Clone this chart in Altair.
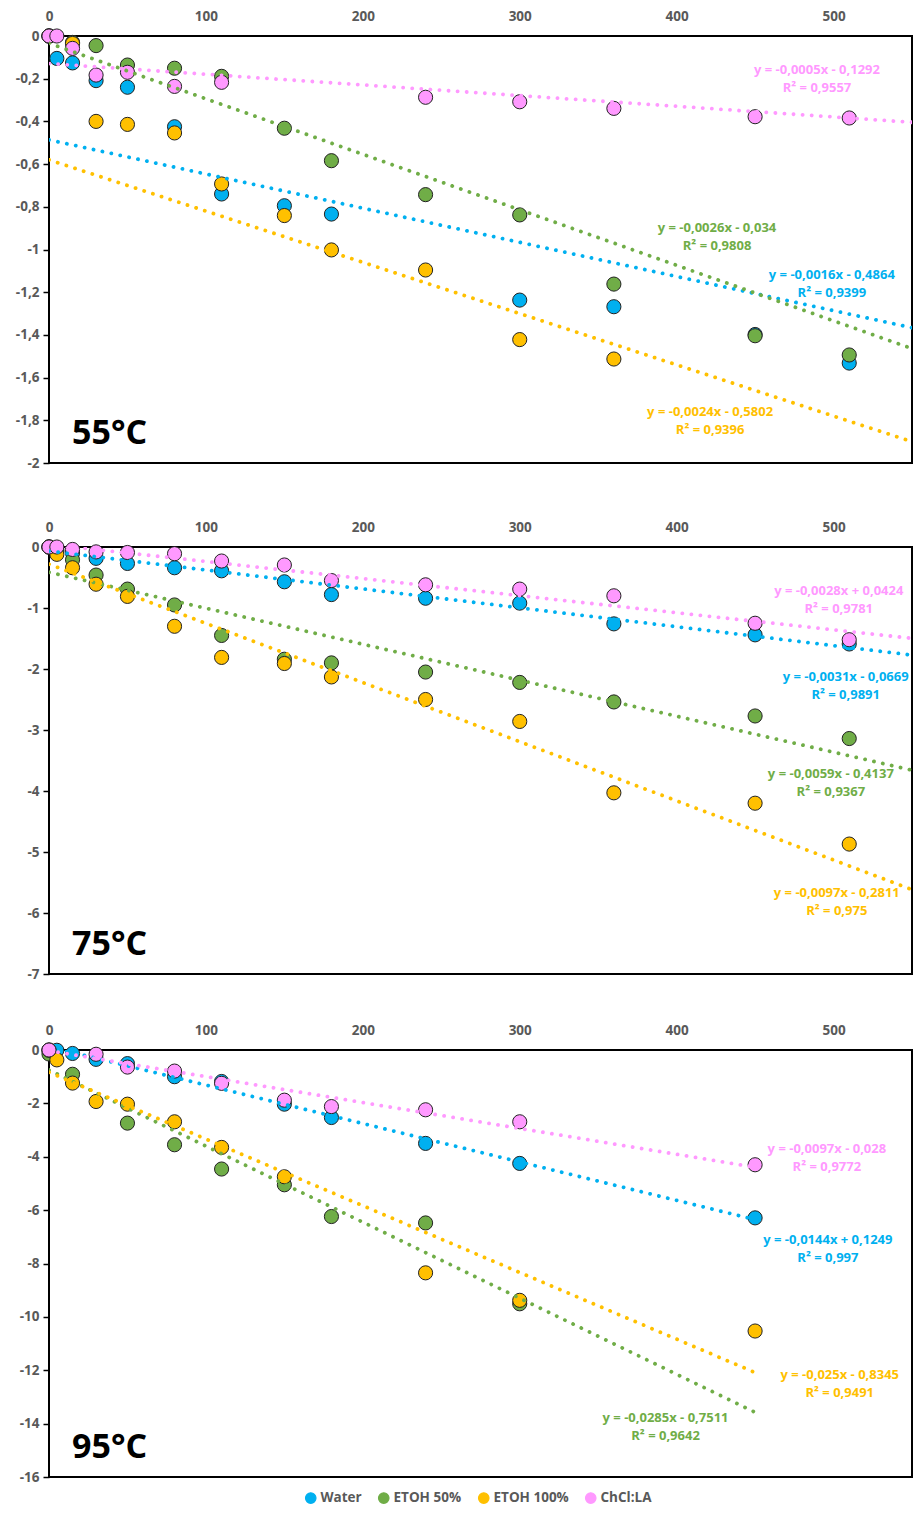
import altair as alt
import pandas as pd

FONT = "Open Sans"
SERIES = ["Water", "ETOH 50%", "ETOH 100%", "ChCl:LA"]
POINT_COLORS = ["#00B0F0", "#70AD47", "#FFC000", "#FF99FF"]
LINE_COLORS = ["#00B0F0", "#70AD47", "#FFC000", "#FF99FF"]
LABEL_GREY = "#595959"

# ---------------- 55 °C ----------------
t55_water = [0, 5, 15, 30, 50, 80, 110, 150, 180, 300, 360, 450, 510]
v55_water = [0, -0.105, -0.126, -0.209, -0.240, -0.425, -0.740, -0.795, -0.834, -1.237, -1.268, -1.398, -1.532]
t55_e50 = [0, 15, 30, 50, 80, 110, 150, 180, 240, 300, 360, 450, 510]
v55_e50 = [0, -0.03, -0.045, -0.136, -0.151, -0.189, -0.432, -0.584, -0.743, -0.838, -1.162, -1.404, -1.494]
t55_e100 = [0, 15, 30, 50, 80, 110, 150, 180, 240, 300, 360]
v55_e100 = [0, -0.035, -0.400, -0.414, -0.454, -0.693, -0.841, -1.002, -1.096, -1.422, -1.513]
t55_chcl = [0, 5, 15, 30, 50, 80, 110, 240, 300, 360, 450, 510]
v55_chcl = [0, 0, -0.058, -0.183, -0.170, -0.236, -0.217, -0.287, -0.308, -0.339, -0.378, -0.384]
slope55 = [-0.0016, -0.0026, -0.0024, -0.0005]
icpt55 = [-0.4864, -0.034, -0.5802, -0.1292]
eq55 = ["y = -0,0016x - 0,4864", "y = -0,0026x - 0,034", "y = -0,0024x - 0,5802", "y = -0,0005x - 0,1292"]
r2_55 = ["R² = 0,9399", "R² = 0,9808", "R² = 0,9396", "R² = 0,9557"]

# ---------------- 75 °C ----------------
t75_water = [0, 5, 15, 30, 50, 80, 110, 150, 180, 240, 300, 360, 450, 510]
v75_water = [0, -0.05, -0.10, -0.186, -0.27, -0.34, -0.39, -0.57, -0.78, -0.84, -0.92, -1.26, -1.44, -1.59]
t75_e50 = [0, 5, 15, 30, 50, 80, 110, 150, 180, 240, 300, 360, 450, 510]
v75_e50 = [0, -0.08, -0.21, -0.46, -0.69, -0.95, -1.45, -1.84, -1.90, -2.05, -2.22, -2.54, -2.77, -3.14]
t75_e100 = [0, 5, 15, 30, 50, 80, 110, 150, 180, 240, 300, 360, 450, 510]
v75_e100 = [0, -0.12, -0.34, -0.61, -0.81, -1.30, -1.81, -1.91, -2.13, -2.50, -2.86, -4.03, -4.20, -4.87]
t75_chcl = [0, 5, 15, 30, 50, 80, 110, 150, 180, 240, 300, 360, 450, 510]
v75_chcl = [0, 0, -0.04, -0.08, -0.09, -0.11, -0.23, -0.295, -0.55, -0.62, -0.69, -0.80, -1.25, -1.52]
slope75 = [-0.0031, -0.0059, -0.0097, -0.0028]
icpt75 = [-0.0669, -0.4137, -0.2811, 0.0424]
eq75 = ["y = -0,0031x - 0,0669", "y = -0,0059x - 0,4137", "y = -0,0097x - 0,2811", "y = -0,0028x + 0,0424"]
r2_75 = ["R² = 0,9891", "R² = 0,9367", "R² = 0,975", "R² = 0,9781"]

# ---------------- 95 °C ----------------
t95_water = [0, 5, 15, 30, 50, 80, 110, 150, 180, 240, 300, 450]
v95_water = [0, -0.01, -0.13, -0.35, -0.51, -1.0, -1.18, -2.03, -2.53, -3.50, -4.25, -6.29]
t95_e50 = [0, 15, 50, 80, 110, 150, 180, 240, 300]
v95_e50 = [-0.15, -0.91, -2.74, -3.55, -4.46, -5.05, -6.24, -6.48, -9.51]
t95_e100 = [0, 5, 15, 30, 50, 80, 110, 150, 240, 300, 450]
v95_e100 = [-0.01, -0.37, -1.24, -1.93, -2.03, -2.69, -3.65, -4.75, -8.35, -9.38, -10.53]
t95_chcl = [0, 30, 50, 80, 110, 150, 180, 240, 300, 450]
v95_chcl = [0, -0.16, -0.64, -0.79, -1.25, -1.88, -2.12, -2.24, -2.69, -4.30]
slope95 = [-0.0144, -0.0285, -0.025, -0.0097]
icpt95 = [0.1249, -0.7511, -0.8345, -0.028]
eq95 = ["y = -0,0144x + 0,1249", "y = -0,0285x - 0,7511", "y = -0,025x - 0,8345", "y = -0,0097x - 0,028"]
r2_95 = ["R² = 0,997", "R² = 0,9642", "R² = 0,9491", "R² = 0,9772"]

# layout (pixels)
PLOT_W = 863
PLOT_H = 427
REF_W = 872
Y_EXT = 40
POS55 = [(791, 239), (675, 192), (668, 376), (776, 34)]
POS75 = [(805, 130), (790, 227), (796, 346), (798, 44)]
POS95 = [(787, 190), (623, 368), (799, 325), (786, 99)]
LINE_GAP = 18


def points_frame(times, values):
    rows = []
    for s, ts, vs in zip(SERIES, times, values):
        for t, v in zip(ts, vs):
            rows.append({"series": s, "t": t, "v": v})
    return pd.DataFrame(rows)


def trend_frame(slopes, icpts, xend):
    rows = []
    for s, m, b in zip(SERIES, slopes, icpts):
        for x in (0, xend):
            rows.append({"series": s, "t": x, "v": m * x + b})
    return pd.DataFrame(rows)


LEGEND = alt.Legend(
    orient="none", legendX=255, legendY=1455, direction="horizontal", title=None,
    symbolType="circle", symbolSize=110, symbolStrokeColor="#222222", symbolStrokeWidth=1.2,
    symbolOpacity=1, labelFont=FONT, labelFontSize=13.5, labelFontWeight="bold",
    labelColor=LABEL_GREY, columnPadding=14, labelOffset=3,
)


def panel(pts, trend, ymin, ystep, temp, eqs, r2s, pos, xext):
    xs = alt.Scale(domain=[0, 550], nice=False, zero=False)
    ys = alt.Scale(domain=[ymin, 0], nice=False, zero=False)
    xaxis = alt.Axis(orient="top", values=[0, 100, 200, 300, 400, 500], title=None, grid=False,
                     domain=False, ticks=False, tickSize=0, labelPadding=13, labelFont=FONT,
                     labelFontSize=13.5, labelFontWeight="bold", labelColor=LABEL_GREY,
                     labelFlush=False, minExtent=xext, maxExtent=xext)
    n = int(round(-ymin / ystep))
    yvals = [round(-ystep * i, 1) for i in range(n + 1)]
    yaxis = alt.Axis(values=yvals, title=None, grid=False, domain=False, ticks=True, tickSize=6,
                     tickColor="#000000", tickWidth=1.5, labelPadding=4,
                     labelExpr="replace(toString(datum.value), '.', ',')",
                     labelFont=FONT, labelFontSize=13.5, labelFontWeight="bold",
                     labelColor=LABEL_GREY, minExtent=Y_EXT, maxExtent=Y_EXT)
    X = alt.X("t:Q", scale=xs, axis=xaxis)
    Y = alt.Y("v:Q", scale=ys, axis=yaxis)

    points = alt.Chart(pts).mark_circle(size=200, opacity=1, strokeWidth=1).encode(
        x=X, y=Y,
        color=alt.Color("series:N", scale=alt.Scale(domain=SERIES, range=POINT_COLORS), legend=LEGEND),
        stroke=alt.value("#222222"),
    )
    lines = alt.Chart(trend).mark_line(
        strokeDash=[0.1, 9], strokeCap="round", strokeJoin="round", strokeWidth=3.8, clip=True
    ).encode(
        x=X, y=Y,
        stroke=alt.Stroke("series:N", scale=alt.Scale(domain=SERIES, range=LINE_COLORS), legend=None),
        detail="series:N",
    )
    layers = [points, lines]
    sx = PLOT_W / REF_W
    for i in range(4):
        cx, cy = pos[i]
        for j, txt in enumerate([eqs[i], r2s[i]]):
            layers.append(
                alt.Chart(pd.DataFrame({"label": [txt]})).mark_text(
                    font=FONT, fontSize=13, fontWeight="bold", color=LINE_COLORS[i],
                    align="center", baseline="middle",
                ).encode(x=alt.value(cx * sx), y=alt.value(cy + j * LINE_GAP), text="label:N")
            )
    layers.append(
        alt.Chart(pd.DataFrame({"label": [temp]})).mark_text(
            font=FONT, fontSize=34, fontWeight="bold", color="#000000",
            align="left", baseline="alphabetic",
        ).encode(x=alt.value(23), y=alt.value(PLOT_H - 19), text="label:N")
    )
    return alt.layer(*layers).properties(width=PLOT_W, height=PLOT_H)


p55 = panel(points_frame([t55_water, t55_e50, t55_e100, t55_chcl], [v55_water, v55_e50, v55_e100, v55_chcl]),
            trend_frame(slope55, icpt55, 550), -2, 0.2, "55°C", eq55, r2_55, POS55, 15)
p75 = panel(points_frame([t75_water, t75_e50, t75_e100, t75_chcl], [v75_water, v75_e50, v75_e100, v75_chcl]),
            trend_frame(slope75, icpt75, 550), -7, 1, "75°C", eq75, r2_75, POS75, 35)
p95 = panel(points_frame([t95_water, t95_e50, t95_e100, t95_chcl], [v95_water, v95_e50, v95_e100, v95_chcl]),
            trend_frame(slope95, icpt95, 450), -16, 2, "95°C", eq95, r2_95, POS95, 17)

chart = alt.vconcat(p55, p75, p95, spacing=40).properties(
    padding={"left": 0, "top": 0, "right": 0, "bottom": 0}
).configure_view(stroke="#000000", strokeWidth=2).configure_legend(
    symbolStrokeColor="#222222", symbolStrokeWidth=1.2
)

chart.save("out.html", embed_options={"renderer": "svg", "actions": False})
